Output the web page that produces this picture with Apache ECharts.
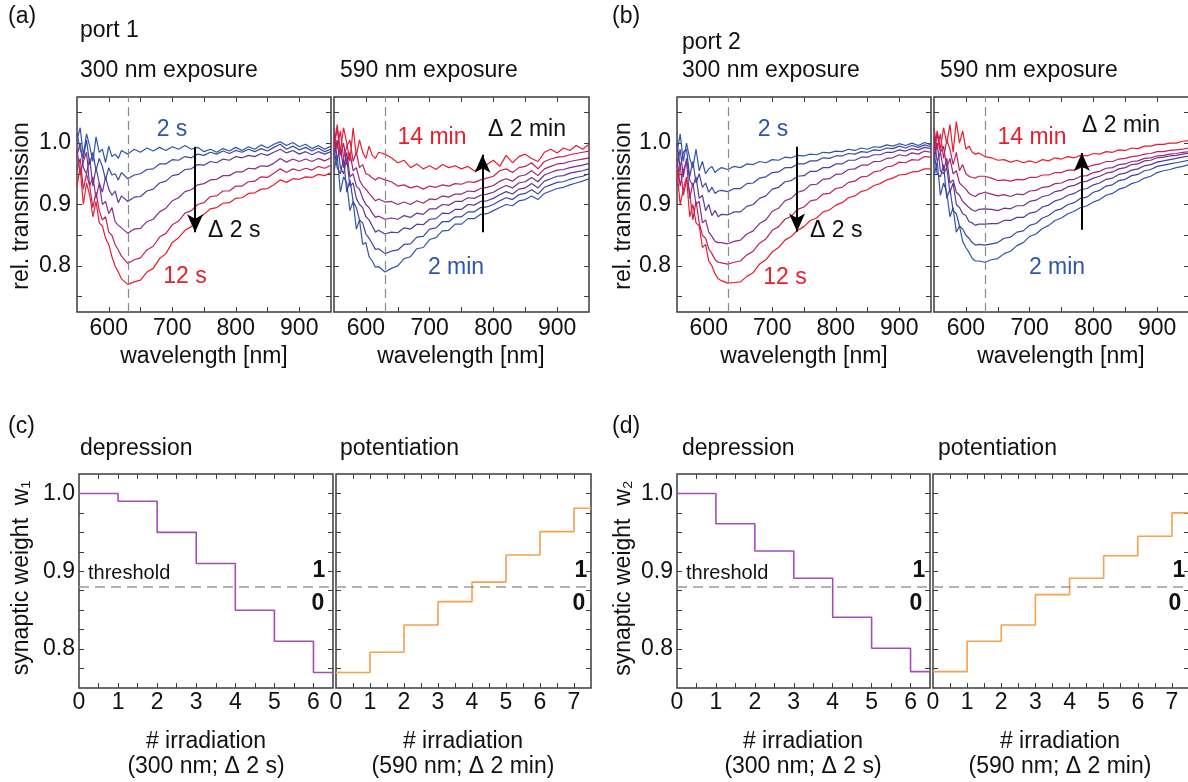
<!DOCTYPE html>
<html><head><meta charset="utf-8">
<script src="https://cdn.jsdelivr.net/npm/echarts@6/dist/echarts.min.js"></script>
<style>html,body{margin:0;padding:0;background:#fff}#c{width:1188px;height:782px}</style>
</head><body><div id="c"></div>
<script>
// ---------- data ----------
const WL = [550,555,560,565,570,575,580,585,590,595,600,605,610,615,620,630,640,650,660,670,680,690,700,710,720,730,740,750,760,770,780,790,800,810,820,830,840,850,860,870,880,890,900,910,920,930,940,950];

// port 1, 300 nm exposure (2 s ... 12 s)
const P1_300_2s  = [1.005,1.025,0.98,1.015,0.995,0.97,1.01,0.985,0.99,0.968,0.995,0.978,0.982,0.975,0.988, 0.982,0.99,0.985,0.992,0.987,0.993,0.988,0.994,0.99,0.996,0.99,0.993,0.986,0.99,0.985,0.991,0.987,0.993,0.988,0.994,0.99,0.997,0.992,0.998,1.002,0.996,1.001,0.994,0.998,0.991,0.996,0.99,0.995];
const P1_300_4s  = [1.015,0.99,0.975,1.005,0.965,0.985,0.955,0.975,0.962,0.94,0.96,0.948,0.95,0.94,0.952, 0.942,0.948,0.95,0.957,0.958,0.966,0.966,0.973,0.972,0.978,0.976,0.982,0.98,0.985,0.982,0.987,0.983,0.988,0.985,0.99,0.986,0.991,0.987,0.993,0.998,0.99,0.995,0.989,0.993,0.987,0.992,0.986,0.99];
const P1_300_6s  = [0.98,1.0,0.96,0.95,0.975,0.93,0.96,0.935,0.92,0.945,0.925,0.915,0.922,0.903,0.914, 0.905,0.912,0.913,0.922,0.925,0.935,0.938,0.947,0.949,0.957,0.958,0.965,0.964,0.97,0.968,0.974,0.972,0.978,0.976,0.98,0.978,0.983,0.98,0.985,0.99,0.984,0.988,0.982,0.986,0.981,0.986,0.982,0.986];
const P1_300_8s  = [0.99,0.95,0.97,0.985,0.93,0.945,0.91,0.935,0.9,0.905,0.885,0.895,0.872,0.866,0.862, 0.853,0.86,0.861,0.872,0.876,0.888,0.894,0.906,0.911,0.921,0.924,0.932,0.934,0.94,0.941,0.947,0.947,0.953,0.953,0.959,0.958,0.963,0.962,0.967,0.975,0.969,0.974,0.97,0.974,0.97,0.975,0.971,0.976];
const P1_300_10s = [0.955,0.975,0.925,0.95,0.93,0.895,0.92,0.89,0.875,0.88,0.855,0.85,0.835,0.826,0.816, 0.804,0.81,0.813,0.826,0.832,0.847,0.853,0.867,0.873,0.886,0.89,0.9,0.903,0.913,0.914,0.922,0.922,0.93,0.93,0.937,0.938,0.945,0.944,0.951,0.958,0.952,0.958,0.955,0.959,0.956,0.962,0.959,0.964];
const P1_300_12s = [0.93,0.96,0.9,0.935,0.915,0.88,0.905,0.87,0.865,0.845,0.835,0.815,0.8,0.79,0.779, 0.77,0.774,0.777,0.79,0.796,0.812,0.82,0.838,0.846,0.858,0.864,0.876,0.884,0.893,0.895,0.902,0.903,0.91,0.911,0.918,0.919,0.925,0.926,0.932,0.94,0.936,0.942,0.941,0.945,0.944,0.949,0.947,0.952];

// port 1, 590 nm exposure (2 min ... 14 min)
const P1_590_2m  = [0.955,0.98,0.92,0.945,0.935,0.89,0.905,0.86,0.875,0.835,0.838,0.815,0.808,0.798,0.799, 0.79,0.796,0.8,0.812,0.815,0.828,0.83,0.843,0.846,0.857,0.858,0.868,0.868,0.877,0.877,0.884,0.885,0.89,0.895,0.9,0.898,0.906,0.908,0.914,0.908,0.918,0.922,0.926,0.928,0.932,0.935,0.938,0.942];
const P1_590_4m  = [0.99,0.96,0.95,0.975,0.92,0.94,0.905,0.895,0.875,0.87,0.852,0.845,0.836,0.827,0.828, 0.82,0.824,0.826,0.835,0.836,0.847,0.848,0.86,0.862,0.872,0.872,0.88,0.88,0.888,0.888,0.895,0.896,0.9,0.906,0.911,0.908,0.916,0.918,0.924,0.917,0.928,0.932,0.936,0.937,0.941,0.944,0.946,0.95];
const P1_590_6m  = [0.975,1.005,0.96,0.95,0.975,0.93,0.935,0.91,0.9,0.895,0.88,0.875,0.865,0.855,0.858, 0.852,0.855,0.854,0.862,0.86,0.868,0.867,0.876,0.877,0.886,0.885,0.892,0.892,0.9,0.899,0.905,0.906,0.91,0.916,0.921,0.917,0.925,0.927,0.934,0.927,0.938,0.942,0.946,0.947,0.951,0.953,0.955,0.958];
const P1_590_8m  = [1.015,0.975,0.99,0.96,0.985,0.945,0.95,0.93,0.925,0.91,0.9,0.895,0.886,0.879,0.881, 0.876,0.878,0.876,0.882,0.879,0.886,0.884,0.893,0.893,0.9,0.899,0.905,0.905,0.911,0.91,0.915,0.917,0.92,0.926,0.931,0.927,0.935,0.937,0.944,0.937,0.948,0.952,0.956,0.957,0.96,0.962,0.964,0.967];
const P1_590_10m = [0.995,1.025,0.98,1.0,0.965,0.985,0.955,0.96,0.94,0.93,0.925,0.918,0.912,0.906,0.909, 0.904,0.905,0.9,0.904,0.9,0.906,0.902,0.909,0.908,0.914,0.912,0.917,0.917,0.922,0.921,0.926,0.928,0.931,0.938,0.942,0.938,0.946,0.948,0.955,0.947,0.958,0.962,0.966,0.967,0.97,0.972,0.974,0.976];
const P1_590_12m = [1.025,0.99,1.02,0.975,0.995,1.005,0.97,0.985,0.96,0.965,0.95,0.948,0.943,0.94,0.944, 0.94,0.937,0.93,0.932,0.927,0.93,0.925,0.93,0.928,0.932,0.93,0.934,0.933,0.937,0.936,0.94,0.943,0.946,0.955,0.958,0.952,0.96,0.962,0.968,0.958,0.97,0.974,0.977,0.978,0.981,0.983,0.985,0.987];
const P1_590_14m = [0.99,1.03,0.985,1.025,1.0,0.97,1.025,0.98,1.005,0.985,0.975,0.995,0.98,0.975,0.985, 0.982,0.976,0.968,0.972,0.96,0.966,0.958,0.963,0.957,0.965,0.96,0.963,0.958,0.962,0.955,0.958,0.965,0.972,0.962,0.98,0.968,0.978,0.982,0.975,0.97,0.985,0.99,0.984,0.992,0.988,0.996,0.99,0.998];

// port 2, 300 nm exposure (2 s ... 12 s)
const P2_300_2s  = [0.985,1.015,0.97,1.0,0.975,0.96,0.99,0.955,0.97,0.95,0.958,0.962,0.952,0.957,0.96, 0.957,0.962,0.96,0.966,0.965,0.97,0.968,0.973,0.972,0.977,0.976,0.98,0.979,0.982,0.981,0.985,0.984,0.987,0.986,0.99,0.988,0.992,0.99,0.994,0.993,0.997,0.995,0.999,0.996,1.0,0.996,1.001,0.997];
const P2_300_4s  = [1.0,0.96,0.985,0.99,0.945,0.97,0.935,0.95,0.928,0.935,0.92,0.928,0.918,0.922,0.923, 0.921,0.926,0.926,0.934,0.935,0.943,0.945,0.952,0.953,0.96,0.96,0.966,0.966,0.971,0.971,0.976,0.975,0.979,0.979,0.983,0.982,0.986,0.985,0.989,0.988,0.992,0.991,0.995,0.992,0.996,0.993,0.997,0.994];
const P2_300_6s  = [0.96,0.99,0.945,0.975,0.94,0.93,0.945,0.91,0.915,0.89,0.9,0.882,0.89,0.88,0.884, 0.883,0.888,0.888,0.897,0.9,0.91,0.914,0.925,0.928,0.937,0.939,0.946,0.947,0.954,0.954,0.96,0.96,0.966,0.966,0.972,0.972,0.977,0.977,0.981,0.981,0.985,0.985,0.989,0.987,0.991,0.989,0.993,0.991];
const P2_300_8s  = [0.975,0.93,0.955,0.97,0.91,0.935,0.9,0.905,0.87,0.875,0.855,0.848,0.84,0.838,0.838, 0.836,0.84,0.842,0.852,0.857,0.869,0.875,0.889,0.894,0.906,0.91,0.92,0.923,0.932,0.933,0.941,0.942,0.949,0.95,0.957,0.958,0.964,0.964,0.97,0.97,0.975,0.976,0.981,0.979,0.984,0.982,0.987,0.985];
const P2_300_10s = [0.93,0.965,0.915,0.94,0.92,0.875,0.905,0.87,0.85,0.845,0.828,0.82,0.81,0.806,0.805, 0.803,0.806,0.808,0.818,0.824,0.837,0.844,0.858,0.864,0.876,0.881,0.892,0.896,0.906,0.908,0.917,0.918,0.926,0.928,0.936,0.938,0.945,0.946,0.953,0.955,0.961,0.963,0.969,0.968,0.973,0.972,0.978,0.977];
const P2_300_12s = [0.955,0.9,0.925,0.945,0.88,0.9,0.87,0.865,0.83,0.835,0.808,0.8,0.787,0.779,0.776, 0.772,0.773,0.774,0.783,0.789,0.803,0.81,0.823,0.83,0.842,0.848,0.858,0.864,0.874,0.878,0.888,0.891,0.899,0.903,0.911,0.914,0.921,0.924,0.931,0.934,0.94,0.943,0.948,0.949,0.953,0.954,0.958,0.958];

// port 2, 590 nm exposure (2 min ... 14 min)
const P2_590_2m  = [0.945,0.97,0.915,0.935,0.92,0.88,0.895,0.855,0.865,0.84,0.83,0.822,0.812,0.808,0.808, 0.806,0.81,0.812,0.82,0.824,0.833,0.838,0.848,0.852,0.861,0.866,0.874,0.878,0.885,0.889,0.895,0.898,0.904,0.908,0.915,0.918,0.925,0.928,0.934,0.937,0.943,0.946,0.952,0.955,0.957,0.96,0.962,0.965];
const P2_590_4m  = [0.985,0.95,0.945,0.965,0.91,0.925,0.89,0.885,0.865,0.86,0.85,0.845,0.838,0.834,0.835, 0.834,0.836,0.838,0.845,0.847,0.855,0.857,0.866,0.869,0.878,0.882,0.89,0.893,0.9,0.903,0.91,0.912,0.92,0.923,0.93,0.932,0.939,0.941,0.947,0.949,0.955,0.957,0.962,0.964,0.966,0.968,0.97,0.972];
const P2_590_6m  = [0.97,1.0,0.955,0.95,0.96,0.92,0.935,0.9,0.895,0.885,0.882,0.872,0.87,0.866,0.868, 0.868,0.869,0.869,0.874,0.874,0.879,0.879,0.886,0.888,0.896,0.899,0.906,0.909,0.915,0.918,0.924,0.926,0.932,0.935,0.941,0.943,0.949,0.951,0.956,0.958,0.963,0.965,0.969,0.971,0.973,0.975,0.977,0.979];
const P2_590_8m  = [1.01,0.97,0.985,0.955,0.975,0.935,0.94,0.92,0.915,0.905,0.9,0.895,0.891,0.889,0.892, 0.893,0.892,0.89,0.894,0.893,0.898,0.898,0.905,0.907,0.913,0.915,0.921,0.923,0.929,0.931,0.936,0.938,0.943,0.946,0.951,0.953,0.958,0.96,0.965,0.966,0.971,0.972,0.976,0.977,0.979,0.98,0.982,0.984];
const P2_590_10m = [0.99,1.015,0.985,0.995,0.96,0.975,0.95,0.955,0.935,0.93,0.925,0.918,0.915,0.913,0.917, 0.92,0.917,0.914,0.916,0.913,0.917,0.916,0.922,0.923,0.928,0.929,0.934,0.935,0.94,0.941,0.946,0.947,0.952,0.954,0.959,0.96,0.965,0.966,0.97,0.971,0.975,0.976,0.979,0.98,0.982,0.983,0.985,0.986];
const P2_590_12m = [1.025,0.99,1.015,0.975,1.005,0.99,0.965,0.985,0.955,0.965,0.95,0.946,0.944,0.943,0.946, 0.946,0.943,0.939,0.94,0.938,0.941,0.94,0.944,0.944,0.948,0.948,0.952,0.952,0.956,0.956,0.96,0.961,0.964,0.966,0.97,0.97,0.974,0.975,0.978,0.979,0.982,0.983,0.986,0.986,0.988,0.989,0.99,0.992];
const P2_590_14m = [0.985,1.02,0.99,1.025,1.0,1.03,0.985,1.035,1.0,1.02,0.99,0.995,0.985,0.982,0.984, 0.978,0.976,0.972,0.973,0.969,0.972,0.968,0.971,0.968,0.973,0.971,0.976,0.974,0.978,0.976,0.98,0.979,0.983,0.982,0.986,0.985,0.989,0.988,0.992,0.991,0.995,0.995,0.998,0.998,1.0,1.0,1.003,1.004];

// synaptic weights (value after each irradiation step, n = 0,1,2,...)
const DEP1 = [1.0, 0.99, 0.95, 0.91, 0.85, 0.81, 0.77];
const POT1 = [0.77, 0.796, 0.831, 0.861, 0.886, 0.921, 0.951, 0.981];
const DEP2 = [1.0, 0.961, 0.926, 0.891, 0.841, 0.801, 0.771];
const POT2 = [0.771, 0.81, 0.831, 0.87, 0.891, 0.92, 0.945, 0.975];
const THRESH = 0.883;
const DASH_NM = 630;

// tick values / labels
const WL_TICKS = [600,650,700,750,800,850,900];
const WL_LABELS = [600,700,800,900];
const T_TICKS = [0.75,0.8,0.85,0.9,0.95,1.0,1.05];
const T_LABELS = [0.8,0.9,1.0];
const W_TICKS = [0.775,0.8,0.825,0.85,0.875,0.9,0.925,0.95,0.975,1.0];
const W_LABELS = [0.8,0.9,1.0];
const N_TICKS_DEP = [0.5,1,1.5,2,2.5,3,3.5,4,4.5,5,5.5,6];
const N_LABELS_DEP = [0,1,2,3,4,5,6];
const N_TICKS_POT = [0.5,1,1.5,2,2.5,3,3.5,4,4.5,5,5.5,6,6.5,7];
const N_LABELS_POT = [0,1,2,3,4,5,6,7];

// arrows: [wavelength, start value, end value]
const ARROW_A1 = [736, 0.994, 0.855];
const ARROW_A2 = [783, 0.855, 0.981];
const ARROW_B1 = [739, 0.994, 0.856];
const ARROW_B2 = [782, 0.859, 0.984];

// ---------- styling ----------
const FONT = '"Liberation Sans", Arial, Helvetica, sans-serif';
const TXT = '#111';
const BLUE = '#2d56a8', RED = '#e91d2d';
const C6 = ['#2d56a8','#3b48a2','#5a3a9a','#8a2c88','#c22060','#e91d2d'];
const C7 = ['#2d56a8','#3b46a0','#553a98','#742f8e','#98267a','#c2205a','#e91d2d'];
const PURPLE = '#a64cb8', ORANGE = '#f8a04c';

const GRIDS = [
  {left:77,  top:97,  width:254, height:215},
  {left:334, top:97,  width:255, height:215},
  {left:677, top:97,  width:254, height:215},
  {left:934, top:97,  width:255, height:215},
  {left:79,  top:474, width:254, height:214},
  {left:336, top:474, width:255, height:214},
  {left:677, top:474, width:253, height:214},
  {left:933, top:474, width:256, height:214}
];
const grids = GRIDS.map(g => Object.assign({show:true, borderColor:'#3c3c3c', borderWidth:1.5,
  backgroundColor:'transparent', containLabel:false, outerBoundsMode:'none'}, g));

const xAxes = [], yAxes = [];
function addAxes(gi, xr, xt, xl, yr, yt, yl, showY, xm, ym) {
  const tick = () => ({inside:true, length:5, lineStyle:{color:'#3c3c3c', width:1}});
  const lab = {fontSize:23, color:TXT, fontFamily:FONT};
  const base = {type:'value', gridIndex:gi, axisLine:{show:false, onZero:false}, splitLine:{show:false}};
  xAxes.push(Object.assign({}, base, {position:'bottom', min:xr[0], max:xr[1],
    axisTick:Object.assign(tick(), {customValues:xt}),
    axisLabel:Object.assign({customValues:xl, margin:xm}, lab)}));
  xAxes.push(Object.assign({}, base, {position:'top', min:xr[0], max:xr[1],
    axisTick:Object.assign(tick(), {customValues:xt}), axisLabel:{show:false}}));
  yAxes.push(Object.assign({}, base, {position:'left', min:yr[0], max:yr[1],
    axisTick:Object.assign(tick(), {customValues:yt}),
    axisLabel:Object.assign({show:showY, customValues:yl, margin:ym, formatter:v => Number(v).toFixed(1)}, lab)}));
  yAxes.push(Object.assign({}, base, {position:'right', min:yr[0], max:yr[1],
    axisTick:Object.assign(tick(), {customValues:yt}), axisLabel:{show:false}}));
}
const TOP_Y = [0.725, 1.075], BOT_Y = [0.75, 1.025], WL_R = [550, 950];
addAxes(0, WL_R, WL_TICKS, WL_LABELS, TOP_Y, T_TICKS, T_LABELS, true, 5, 6);
addAxes(1, WL_R, WL_TICKS, WL_LABELS, TOP_Y, T_TICKS, T_LABELS, false, 5, 6);
addAxes(2, WL_R, WL_TICKS, WL_LABELS, TOP_Y, T_TICKS, T_LABELS, true, 5, 6);
addAxes(3, WL_R, WL_TICKS, WL_LABELS, TOP_Y, T_TICKS, T_LABELS, false, 5, 6);
addAxes(4, [0, 6.5], N_TICKS_DEP, N_LABELS_DEP, BOT_Y, W_TICKS, W_LABELS, true, 3, 4);
addAxes(5, [0, 7.5], N_TICKS_POT, N_LABELS_POT, BOT_Y, W_TICKS, W_LABELS, false, 3, 4);
addAxes(6, [0, 6.5], N_TICKS_DEP, N_LABELS_DEP, BOT_Y, W_TICKS, W_LABELS, true, 3, 4);
addAxes(7, [0, 7.5], N_TICKS_POT, N_LABELS_POT, BOT_Y, W_TICKS, W_LABELS, false, 3, 4);

function spectra(gi, curves, colors, arrow) {
  return curves.map((c, k) => {
    const s = {type:'line', xAxisIndex:2*gi, yAxisIndex:2*gi, data:WL.map((w, j) => [w, c[j]]),
      symbol:'none', showSymbol:false, lineStyle:{width:1.2, color:colors[k]}, itemStyle:{color:colors[k]},
      silent:true, emphasis:{disabled:true}, z:2};
    if (k === curves.length - 1) {
      s.markLine = {silent:true, symbol:['none','none'], label:{show:false}, emphasis:{disabled:true},
        lineStyle:{color:'#000', width:2, type:'solid'},
        data:[
          {xAxis:DASH_NM, lineStyle:{color:'#8a8a8a', type:[9,5], width:1.2}},
          [{coord:[arrow[0], arrow[1]], symbol:'none', lineStyle:{color:'#000', width:2, type:'solid'}},
           {coord:[arrow[0], arrow[2]], symbol:'arrow', symbolSize:[12,18]}]
        ]};
    }
    return s;
  });
}
function steps(gi, vals, xmax, color) {
  const d = vals.map((v, n) => [n, v]);
  d.push([xmax, vals[vals.length - 1]]);
  return {type:'line', step:'end', xAxisIndex:2*gi, yAxisIndex:2*gi, data:d, symbol:'none', showSymbol:false,
    lineStyle:{width:1.6, color:color}, itemStyle:{color:color}, silent:true, emphasis:{disabled:true},
    markLine:{silent:true, symbol:['none','none'], label:{show:false}, emphasis:{disabled:true},
      lineStyle:{color:'#9a9a9a', type:[10,6], width:1.5}, data:[{yAxis:THRESH}]}};
}

const series = [].concat(
  spectra(0, [P1_300_2s,P1_300_4s,P1_300_6s,P1_300_8s,P1_300_10s,P1_300_12s], C6, ARROW_A1),
  spectra(1, [P1_590_2m,P1_590_4m,P1_590_6m,P1_590_8m,P1_590_10m,P1_590_12m,P1_590_14m], C7, ARROW_A2),
  spectra(2, [P2_300_2s,P2_300_4s,P2_300_6s,P2_300_8s,P2_300_10s,P2_300_12s], C6, ARROW_B1),
  spectra(3, [P2_590_2m,P2_590_4m,P2_590_6m,P2_590_8m,P2_590_10m,P2_590_12m,P2_590_14m], C7, ARROW_B2),
  [steps(4, DEP1, 6.5, PURPLE), steps(5, POT1, 7.5, ORANGE), steps(6, DEP2, 6.5, PURPLE), steps(7, POT2, 7.5, ORANGE)]
);

function txt(x, y, s, o) {
  o = o || {};
  const al = o.align || 'left';
  return {type:'text', x:x, y:y, rotation:o.rot || 0, z:100, silent:true,
    style:{text:s, fill:o.color || TXT, font:(o.bold ? 'bold ' : '') + (o.size || 23) + 'px ' + FONT,
      textAlign:al, textVerticalAlign:'middle', align:al, verticalAlign:'middle'}};
}
const R90 = Math.PI / 2;
const graphics = [
  txt(8, 17, '(a)'), txt(80, 31, 'port 1'), txt(80, 71, '300 nm exposure'), txt(340, 71, '590 nm exposure'),
  txt(612, 17, '(b)'), txt(682, 43, 'port 2'), txt(682, 71, '300 nm exposure'), txt(940, 71, '590 nm exposure'),
  txt(22, 206, 'rel. transmission', {rot:R90, align:'center'}),
  txt(624, 206, 'rel. transmission', {rot:R90, align:'center'}),
  txt(204, 357, 'wavelength [nm]', {align:'center'}), txt(461, 357, 'wavelength [nm]', {align:'center'}),
  txt(804, 357, 'wavelength [nm]', {align:'center'}), txt(1061, 357, 'wavelength [nm]', {align:'center'}),
  txt(172, 130, '2 s', {color:BLUE, align:'center'}), txt(208, 231, 'Δ 2 s'), txt(185, 277, '12 s', {color:RED, align:'center'}),
  txt(432, 138, '14 min', {color:RED, align:'center'}), txt(488, 130, 'Δ 2 min'), txt(456, 268, '2 min', {color:BLUE, align:'center'}),
  txt(773, 130, '2 s', {color:BLUE, align:'center'}), txt(810, 231, 'Δ 2 s'), txt(785, 278, '12 s', {color:RED, align:'center'}),
  txt(1032, 138, '14 min', {color:RED, align:'center'}), txt(1082, 126, 'Δ 2 min'), txt(1057, 268, '2 min', {color:BLUE, align:'center'}),
  txt(8, 427, '(c)'), txt(80, 449, 'depression'), txt(340, 449, 'potentiation'),
  txt(612, 427, '(d)'), txt(682, 449, 'depression'), txt(938, 449, 'potentiation'),
  txt(22, 578, 'synaptic weight  w₁', {rot:R90, align:'center'}),
  txt(624, 578, 'synaptic weight  w₂', {rot:R90, align:'center'}),
  txt(88, 573, 'threshold', {size:20}), txt(686, 573, 'threshold', {size:20}),
  txt(319, 571, '1', {bold:true, align:'center'}), txt(318, 604, '0', {bold:true, align:'center'}),
  txt(581, 571, '1', {bold:true, align:'center'}), txt(579, 604, '0', {bold:true, align:'center'}),
  txt(919, 571, '1', {bold:true, align:'center'}), txt(916, 604, '0', {bold:true, align:'center'}),
  txt(1179, 571, '1', {bold:true, align:'center'}), txt(1175, 604, '0', {bold:true, align:'center'}),
  txt(206, 742, '# irradiation', {align:'center'}), txt(206, 767, '(300 nm; Δ 2 s)', {align:'center'}),
  txt(463, 742, '# irradiation', {align:'center'}), txt(463, 767, '(590 nm; Δ 2 min)', {align:'center'}),
  txt(803, 742, '# irradiation', {align:'center'}), txt(803, 767, '(300 nm; Δ 2 s)', {align:'center'}),
  txt(1060, 742, '# irradiation', {align:'center'}), txt(1060, 767, '(590 nm; Δ 2 min)', {align:'center'})
];

const chart = echarts.init(document.getElementById('c'), null, {renderer:'canvas', width:1188, height:782});
chart.setOption({
  animation:false,
  backgroundColor:'#fff',
  textStyle:{fontFamily:FONT},
  grid:grids, xAxis:xAxes, yAxis:yAxes, series:series, graphic:graphics
});
</script>
</body></html>
